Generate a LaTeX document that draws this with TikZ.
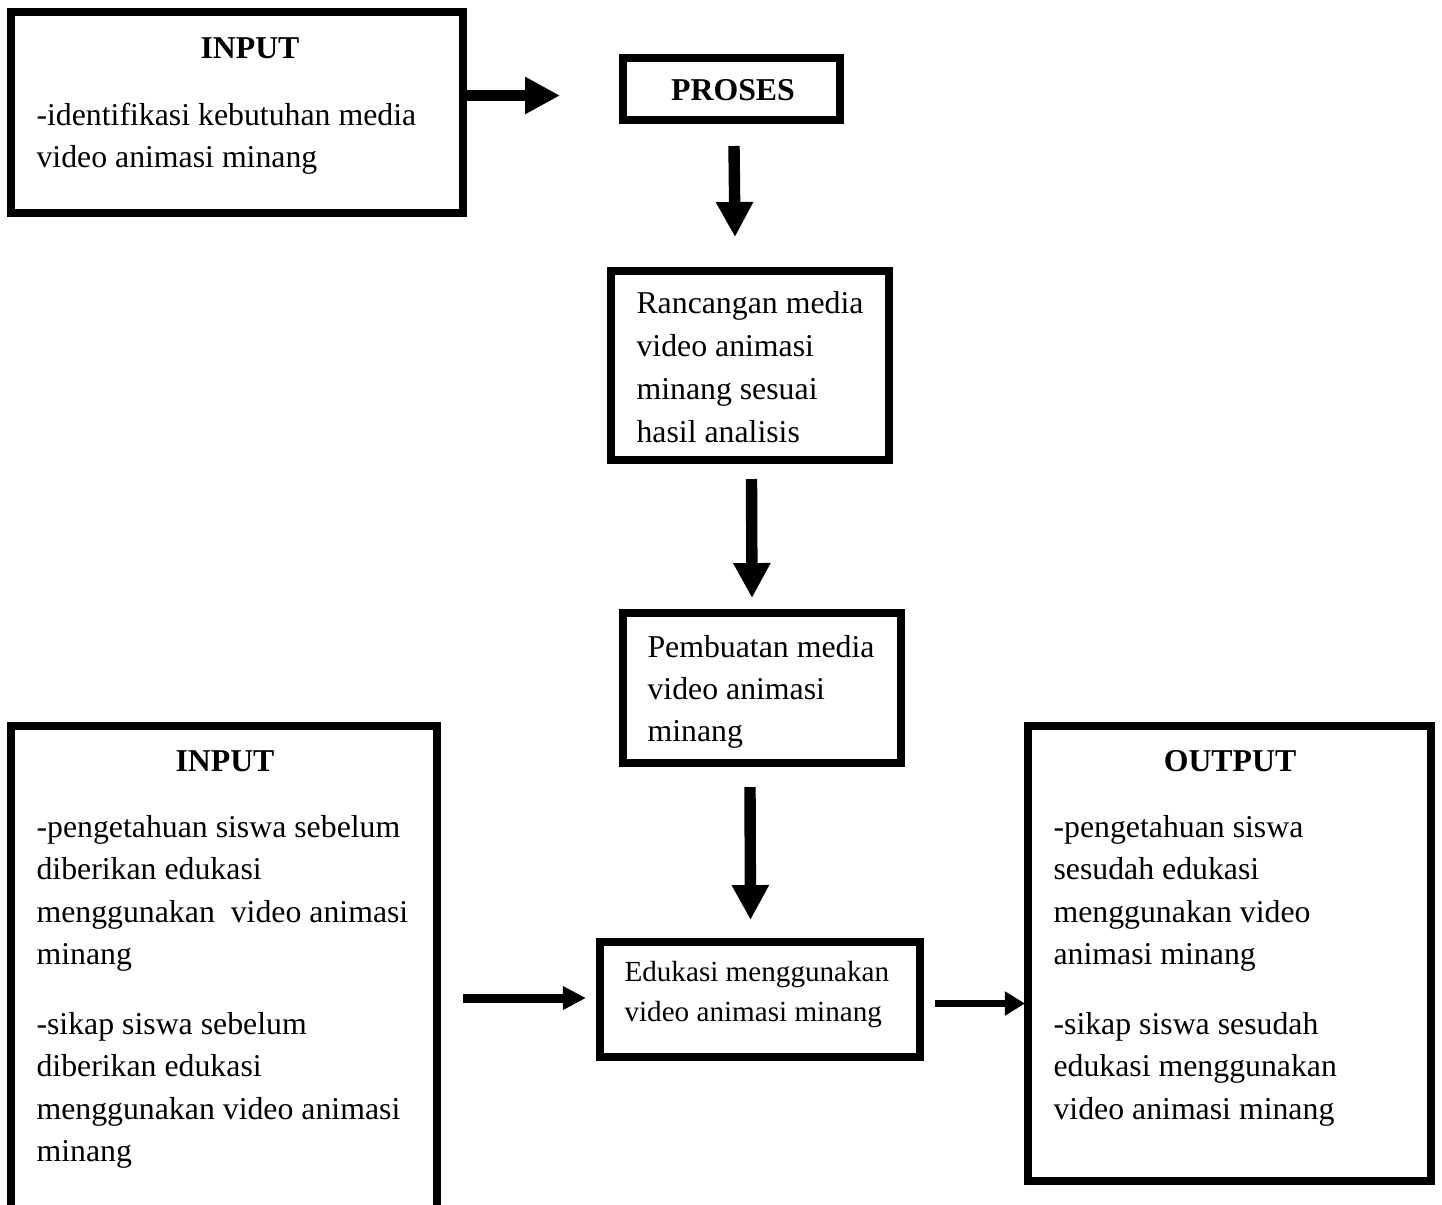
\documentclass[tikz,border=0pt]{standalone}
\usepackage{fontspec}
\setmainfont{Liberation Serif}
\usetikzlibrary{arrows.meta,fit}
\begin{document}
\begin{tikzpicture}[x=0.3774pt,y=-0.3774pt,
  box/.style={draw,line width=3pt,inner sep=0pt,rectangle},
  txt/.style={anchor=base west,inner sep=0pt,font=\fontsize{12pt}{15pt}\selectfont},
  smalltxt/.style={anchor=base west,inner sep=0pt,font=\fontsize{11pt}{14pt}\selectfont},
  ttl/.style={anchor=base,inner sep=0pt,font=\fontsize{12pt}{15pt}\selectfont\bfseries},
  bigarrow/.style={line width=4.3pt,-{Triangle[length=13.2pt,width=13.2pt]}},
  midarrow/.style={line width=3.4pt,-{Triangle[length=8.7pt,width=8.4pt]}},
  smallarrow/.style={line width=2.7pt,-{Triangle[length=7.6pt,width=8.7pt]}}]
\useasboundingbox (0,0) rectangle (1442,1204);

% boxes
\node[box,fit={(11,12)(463,213)}] (in1) {};
\node[box,fit={(623,58)(840,120)}] (proses) {};
\node[box,fit={(611,271)(889,460)}] (ranc) {};
\node[box,fit={(623,613)(901,763)}] (pemb) {};
\node[box,fit={(600,942)(920,1057)}] (edu) {};
\node[box,fit={(11,726)(437,1240)}] (in2) {};
\node[box,fit={(1028,726)(1431,1181)}] (out) {};

% titles
\node[ttl] (t1) at (250,58) {INPUT};
\node[ttl] (tp) at (733,100) {PROSES};
\node[ttl] (t2) at (225,771) {INPUT};
\node[ttl] (t3) at (1230,771) {OUTPUT};

% texts
\foreach \t [count=\i] in {-identifikasi kebutuhan media, video animasi minang}
  \node[txt] (a\i) at (36,83+42*\i) {\t};
\foreach \t [count=\i] in {Rancangan media, video animasi, minang sesuai, hasil analisis}
  \node[txt] (r\i) at (636,270+43*\i) {\t};
\foreach \t [count=\i] in {Pembuatan media, video animasi, minang}
  \node[txt] (p\i) at (647,615+42*\i) {\t};
\foreach \t [count=\i] in {-pengetahuan siswa sebelum, diberikan edukasi, menggunakan\ \ video animasi, minang}
  \node[txt] (b\i) at (36,794.5+42.6*\i) {\t};
\foreach \t [count=\i] in {-sikap siswa sebelum, diberikan edukasi, menggunakan video animasi, minang}
  \node[txt] (c\i) at (36,991.5+42.5*\i) {\t};
\foreach \t [count=\i] in {-pengetahuan siswa, sesudah edukasi, menggunakan video, animasi minang}
  \node[txt] (d\i) at (1053,794.5+42.6*\i) {\t};
\foreach \t [count=\i] in {-sikap siswa sesudah, edukasi menggunakan, video animasi minang}
  \node[txt] (e\i) at (1053,991.5+42.5*\i) {\t};
\node[smalltxt] (f1) at (624,981) {Edukasi menggunakan};
\node[smalltxt] (f2) at (624,1021) {video animasi minang};

% arrow end points
\coordinate (e1) at (560,95.5);
\coordinate (s2) at (734,146);
\coordinate (e2) at (735,237);
\coordinate (s3) at (751.5,479);
\coordinate (e3) at (752,598);
\coordinate (s4) at (750,787);
\coordinate (e4) at (750.5,920);
\coordinate (s5) at (463,998);
\coordinate (e5) at (586,998);
\coordinate (s6) at (935,1003.5);
\coordinate (e6) at (1025,1003.5);

% connectors
\draw[bigarrow] (in1.east |- e1) -- (e1);
\draw[bigarrow] (s2) -- (e2);
\draw[bigarrow] (s3) -- (e3);
\draw[bigarrow] (s4) -- (e4);
\draw[midarrow] (s5) -- (e5);
\draw[smallarrow] (s6) -- (e6);
\end{tikzpicture}
\end{document}
